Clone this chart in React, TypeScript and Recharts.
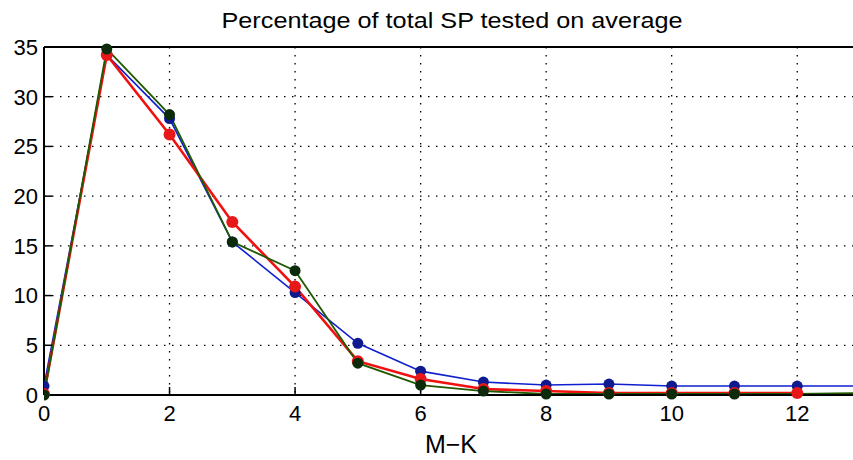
import { LineChart, Line, XAxis, YAxis, CartesianGrid } from 'recharts';

const MK = [0, 1, 2, 3, 4, 5, 6, 7, 8, 9, 10, 11, 12, 13];
const BLUE = [0.9, 34.2, 27.8, 15.4, 10.3, 5.2, 2.4, 1.3, 1.0, 1.1, 0.9, 0.9, 0.9, 0.9];
const RED = [0.1, 34.2, 26.2, 17.4, 10.9, 3.4, 1.6, 0.6, 0.4, 0.2, 0.2, 0.2, 0.2, null];
const GREEN = [0.0, 34.8, 28.2, 15.4, 12.5, 3.2, 1.0, 0.4, 0.1, 0.1, 0.1, 0.1, 0.1, 0.2];

const X_TICKS = [0, 2, 4, 6, 8, 10, 12];
const Y_TICKS = [0, 5, 10, 15, 20, 25, 30, 35];

const data = MK.map((x, i) => ({ x, blue: BLUE[i], red: RED[i], green: GREEN[i] }));

const FONT = '"Liberation Sans", Arial, Helvetica, sans-serif';
const tickStyle = { fill: '#000', fontSize: 22, fontFamily: FONT };

// green dots: skip the ones that sit under the red markers at the right end
const greenDot = (props: any) => {
  const { cx, cy, index } = props;
  if (index >= 12 || cx == null) return <g key={`gd-${index}`} />;
  return <circle key={`gd-${index}`} cx={cx} cy={cy} r={5.5} fill="#0b2b0b" stroke="none" />;
};

export default function App() {
  return (
    <div style={{ position: 'absolute', left: 0, top: 0, width: 853, height: 460, overflow: 'hidden', background: '#fff' }}>
      <LineChart width={870} height={460} data={data} margin={{ top: 46, right: 10, left: 0, bottom: 25 }}>
        <CartesianGrid
          stroke="#000"
          strokeWidth={1.3}
          strokeDasharray="1.5 6.5"
          horizontalValues={Y_TICKS}
          verticalValues={X_TICKS}
        />
        <XAxis
          xAxisId="top"
          orientation="top"
          dataKey="x"
          type="number"
          domain={[0, 13]}
          ticks={X_TICKS}
          height={1}
          tick={false}
          tickSize={-8}
          axisLine={{ stroke: '#000', strokeWidth: 2 }}
          tickLine={{ stroke: '#000', strokeWidth: 1.5 }}
        />
        <XAxis
          dataKey="x"
          type="number"
          domain={[0, 13]}
          ticks={X_TICKS}
          allowDataOverflow
          height={40}
          tickSize={-8}
          tickMargin={18}
          tick={tickStyle}
          axisLine={{ stroke: '#000', strokeWidth: 2 }}
          tickLine={{ stroke: '#000', strokeWidth: 1.5 }}
        />
        <YAxis
          type="number"
          domain={[0, 35]}
          ticks={Y_TICKS}
          width={44}
          tickSize={-8}
          tickMargin={14}
          tick={tickStyle}
          axisLine={{ stroke: '#000', strokeWidth: 2 }}
          tickLine={{ stroke: '#000', strokeWidth: 1.5 }}
        />
        <Line
          dataKey="blue"
          stroke="#1020d0"
          strokeWidth={1.6}
          dot={{ r: 5.5, fill: '#101a90', stroke: 'none' }}
          isAnimationActive={false}
        />
        <Line
          dataKey="red"
          stroke="#f01010"
          strokeWidth={2.6}
          dot={{ r: 6, fill: '#e81818', stroke: 'none' }}
          isAnimationActive={false}
        />
        <Line
          dataKey="green"
          stroke="#1e5a00"
          strokeWidth={1.8}
          dot={greenDot}
          isAnimationActive={false}
        />
        <text
          x={452}
          y={28}
          textAnchor="middle"
          fontFamily={FONT}
          fontSize={22}
          fill="#000"
          textLength={461}
          lengthAdjust="spacingAndGlyphs"
        >
          Percentage of total SP tested on average
        </text>
        <text x={451} y={453} textAnchor="middle" fontFamily={FONT} fontSize={25} fill="#000">
          M−K
        </text>
      </LineChart>
    </div>
  );
}
